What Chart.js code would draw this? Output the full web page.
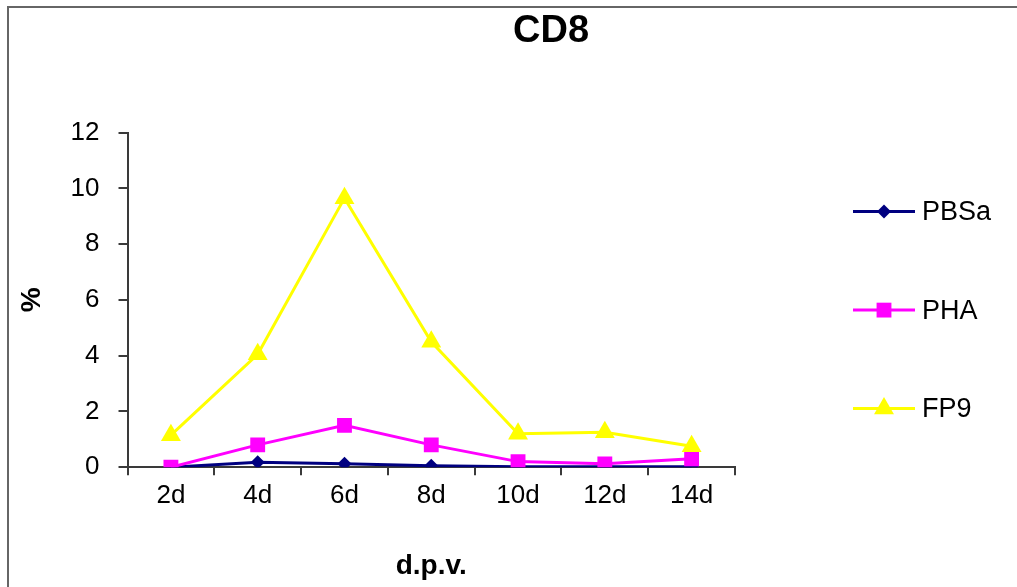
<!DOCTYPE html>
<html>
<head>
<meta charset="utf-8">
<script src="https://cdn.jsdelivr.net/npm/chart.js@4.4.1/dist/chart.umd.min.js"></script>
<style>
  html, body { margin: 0; padding: 0; background: #fff; overflow: hidden; }
  #wrap { position: absolute; left: 0; top: 0; width: 1017px; height: 587px; }
  #frame { position: absolute; left: 7px; top: 6px; width: 1100px; height: 700px;
           border-left: 2px solid #666; border-top: 2px solid #666; pointer-events: none; }
</style>
</head>
<body>
<div id="wrap"><canvas id="cd8"></canvas></div>
<div id="frame"></div>
<script>
const days = ['2d', '4d', '6d', '8d', '10d', '12d', '14d'];
const pbsa = [0, 0.18, 0.12, 0.05, 0.02, 0.02, 0.02];
const pha  = [0, 0.8, 1.5, 0.8, 0.2, 0.12, 0.3];
const fp9  = [1.15, 4.05, 9.65, 4.5, 1.2, 1.25, 0.75];
const yTicks = [0, 2, 4, 6, 8, 10, 12];

const FONT = "'Liberation Sans', Arial, sans-serif";
const AXIS = '#3a3a3a';

// excel-like markers for the side legend
function marker(ctx, style, r, x, y) {
  ctx.beginPath();
  if (style === 'rectRot') {
    ctx.moveTo(x - r, y); ctx.lineTo(x, y - r); ctx.lineTo(x + r, y); ctx.lineTo(x, y + r);
  } else if (style === 'rect') {
    const s = r * Math.SQRT1_2;
    ctx.rect(x - s, y - s, 2 * s, 2 * s);
  } else {
    ctx.moveTo(x, y - r);
    ctx.lineTo(x + r * Math.sin(Math.PI / 3), y + r / 2);
    ctx.lineTo(x - r * Math.sin(Math.PI / 3), y + r / 2);
  }
  ctx.closePath();
  ctx.fill();
}

const sideLegend = {
  id: 'sideLegend',
  afterDraw(chart) {
    const { ctx, chartArea } = chart;
    chart.data.datasets.forEach((ds, i) => {
      const x = chartArea.right + 118;
      const y = chartArea.top + 79 + i * 98.5;
      ctx.save();
      ctx.strokeStyle = ds.borderColor;
      ctx.lineWidth = ds.borderWidth;
      ctx.beginPath();
      ctx.moveTo(x, y);
      ctx.lineTo(x + 62, y);
      ctx.stroke();
      ctx.fillStyle = ds.pointBackgroundColor;
      marker(ctx, ds.pointStyle, ds.pointRadius, x + 31, y);
      ctx.fillStyle = '#000';
      ctx.font = '27px ' + FONT;
      ctx.textBaseline = 'middle';
      ctx.fillText(ds.label, x + 69, y + 1);
      ctx.restore();
    });
  }
};

// title sits off-centre in the original
const TITLE_X = 551;
const titleNudge = {
  id: 'titleNudge',
  afterLayout(chart) {
    const t = chart.titleBlock;
    if (!t) return;
    const dx = TITLE_X - (t.left + t.right) / 2;
    t.left += dx;
    t.right += dx;
  }
};

new Chart(document.getElementById('cd8'), {
  type: 'line',
  data: {
    labels: days,
    datasets: [
      { label: 'PBSa', data: pbsa, borderColor: '#000080', pointBackgroundColor: '#000080',
        pointBorderColor: '#000080', borderWidth: 3, pointStyle: 'rectRot', pointRadius: 7,
        pointBorderWidth: 0, order: 3 },
      { label: 'PHA', data: pha, borderColor: '#ff00ff', pointBackgroundColor: '#ff00ff',
        pointBorderColor: '#ff00ff', borderWidth: 3, pointStyle: 'rect', pointRadius: 10.5,
        pointBorderWidth: 0, order: 2 },
      { label: 'FP9', data: fp9, borderColor: '#ffff00', pointBackgroundColor: '#ffff00',
        pointBorderColor: '#ffff00', borderWidth: 3, pointStyle: 'triangle', pointRadius: 11.5,
        pointBorderWidth: 0, order: 1 }
    ]
  },
  options: {
    responsive: true,
    maintainAspectRatio: false,
    animation: false,
    layout: { padding: { left: 0, right: 282, top: 0, bottom: 0 } },
    plugins: {
      legend: { display: false },
      tooltip: { enabled: false },
      title: {
        display: true,
        text: 'CD8',
        color: '#000',
        font: { family: FONT, size: 38, weight: 'bold' },
        padding: { top: 9, bottom: 78 }
      }
    },
    scales: {
      x: {
        offset: true,
        grid: { offset: true, drawOnChartArea: false, tickLength: 8, color: AXIS, lineWidth: 2 },
        border: { color: AXIS, width: 2 },
        ticks: { color: '#000', padding: 5, font: { family: FONT, size: 26 } },
        title: {
          display: true, text: 'd.p.v.', color: '#000',
          font: { family: FONT, size: 28, weight: 'bold' },
          padding: { top: 33, bottom: 4 }
        }
      },
      y: {
        min: 0,
        max: 12,
        afterBuildTicks: (s) => { s.ticks = yTicks.map(v => ({ value: v })); },
        grid: { drawOnChartArea: false, tickLength: 9, color: AXIS, lineWidth: 2 },
        border: { color: AXIS, width: 2 },
        ticks: { color: '#000', padding: 19, font: { family: FONT, size: 26 } },
        title: {
          display: true, text: '%', color: '#000',
          font: { family: FONT, size: 28, weight: 'bold' },
          padding: { top: 15, bottom: 3 }
        }
      }
    }
  },
  plugins: [sideLegend, titleNudge]
});
</script>
</body>
</html>
